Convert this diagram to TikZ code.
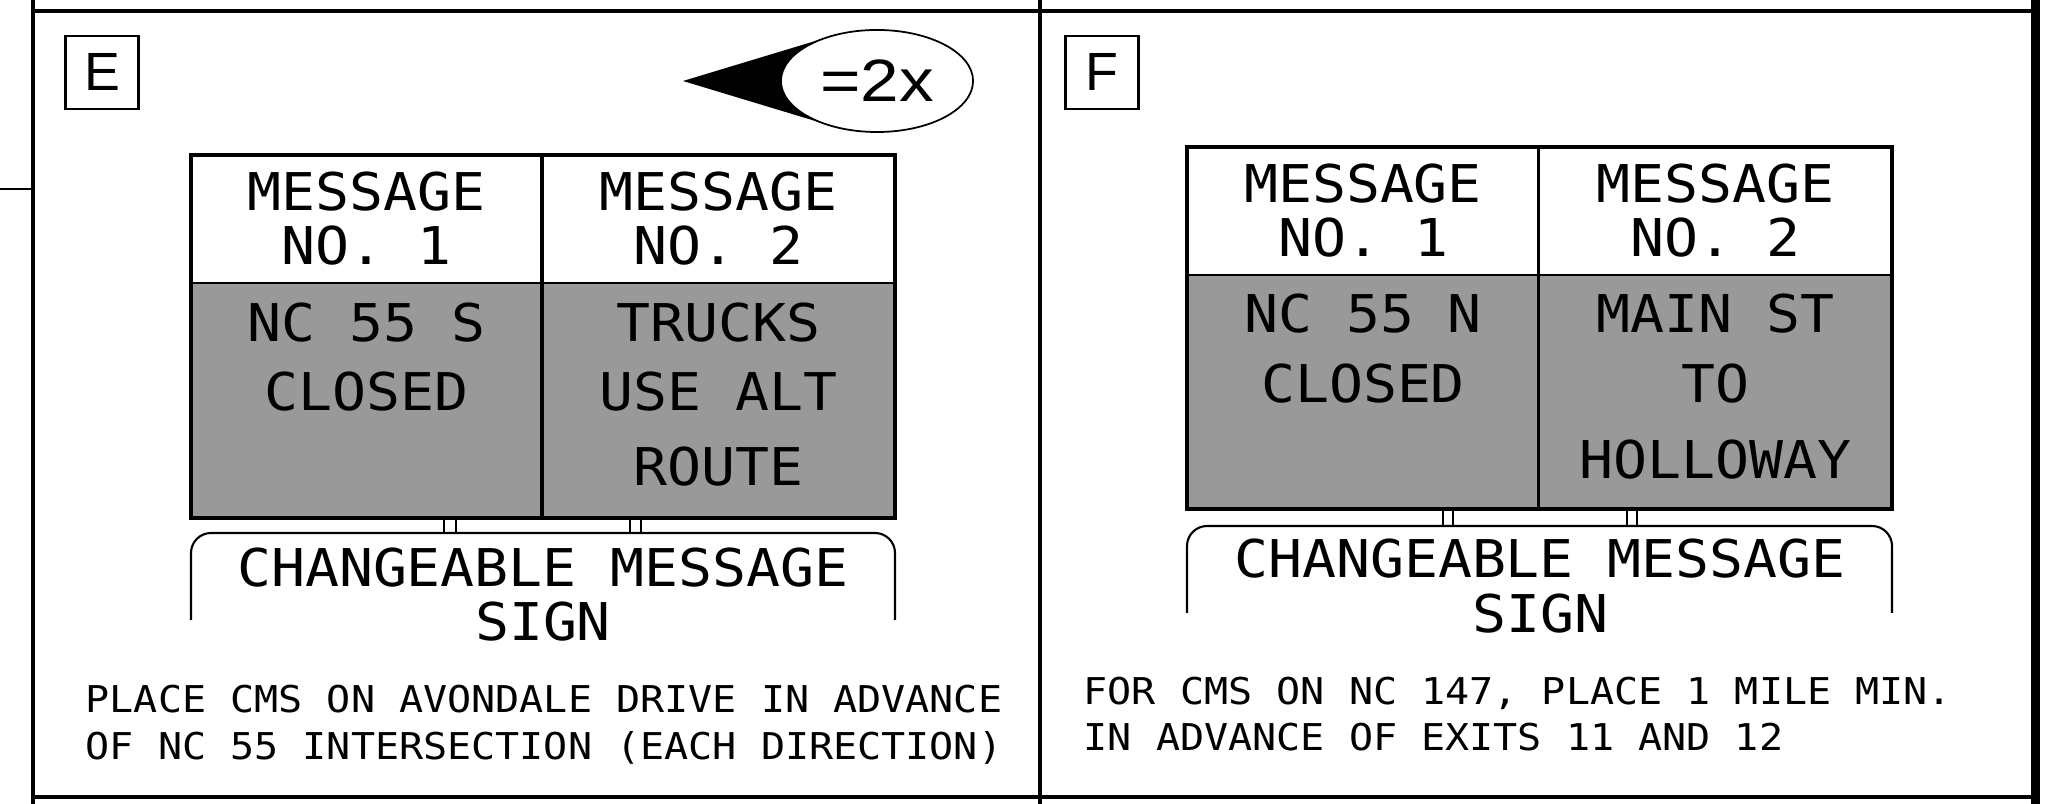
\documentclass[tikz,border=0pt]{standalone}
\usepackage{fontspec}
\usetikzlibrary{shapes.geometric}
\newfontfamily\cadfont[FakeStretch=1.085]{DejaVu Sans Mono}
\newfontfamily\tagfont{Liberation Sans}
\newfontfamily\ovalfont[FakeStretch=1.16]{Liberation Sans}
\definecolor{signgray}{RGB}{153,153,153}

\begin{document}
\begin{tikzpicture}[x=0.01cm, y=-0.01cm,
    sign_text/.style={font=\cadfont\fontsize{14.8}{16}\selectfont, anchor=base, inner sep=0},
    note_text/.style={font=\cadfont\fontsize{10.5}{12}\selectfont, anchor=base west, inner sep=0},
    tag_node/.style={draw, line width=0.6pt, minimum width=0.73cm, minimum height=0.73cm, inner sep=0, font=\tagfont\fontsize{15.3}{16}\selectfont},
    frame_line/.style={line width=1.4pt}]
    \useasboundingbox (0,0) rectangle (2057,804);
    \draw[frame_line] (33,0) -- (33,804);
    \draw[frame_line] (1040,0) -- (1040,804);
    \draw[line width=2.5pt] (2035.5,0) -- (2035.5,804);
    \draw[frame_line] (33,11) -- (2035.5,11);
    \draw[frame_line] (33,797) -- (2035.5,797);
    \draw[line width=0.4pt] (0,189) -- (33,189);

    \node[tag_node] (e_tag) at (102,72.5) {E};
    \node[tag_node] (f_tag) at (1102,72.5) {F};

    \coordinate (tip) at (683,81);
    \fill (tip) -- (829.5,36.7) -- (829.5,125.3) -- cycle;
    \node[draw, ellipse, fill=white, line width=0.5pt, minimum width=1.92cm, minimum height=1.02cm, inner sep=0, font=\ovalfont\fontsize{17}{18}\selectfont] (scale_oval) at (877,81) {=2x};

    \fill[signgray] (191,283) rectangle (895,518);
    \draw[line width=0.6pt] (191,283) -- (895,283);
    \draw[line width=0.9pt] (542,155) -- (542,518);
    \draw[line width=1.1pt] (191,155) rectangle (895,518);
    \node[sign_text] (e_m1a) at (366.5,211) {MESSAGE};
    \node[sign_text] (e_m1b) at (366.5,265) {NO. 1};
    \node[sign_text] (e_m2a) at (718.5,211) {MESSAGE};
    \node[sign_text] (e_m2b) at (718.5,265) {NO. 2};
    \node[sign_text] (e_b1a) at (366.5,342) {NC 55 S};
    \node[sign_text] (e_b1b) at (366.5,411) {CLOSED};
    \node[sign_text] (e_b2a) at (718.5,342) {TRUCKS};
    \node[sign_text] (e_b2b) at (718.5,411) {USE ALT};
    \node[sign_text] (e_b2c) at (718.5,486) {ROUTE};
    \draw[line width=0.4pt] (444,518) -- (444,533) (456,518) -- (456,533);
    \draw[line width=0.4pt] (630,518) -- (630,533) (641,518) -- (641,533);
    \draw[line width=0.6pt, rounded corners=0.2cm] (191,620) -- (191,533) -- (895,533) -- (895,620);
    \node[sign_text] (e_cms) at (543,587) {CHANGEABLE MESSAGE};
    \node[sign_text] (e_sign) at (543,641) {SIGN};
    \node[note_text] (e_note1) at (85,712.5) {PLACE CMS ON AVONDALE DRIVE IN ADVANCE};
    \node[note_text] (e_note2) at (85,760) {OF NC 55 INTERSECTION (EACH DIRECTION)};

    \fill[signgray] (1187,275) rectangle (1892,509);
    \draw[line width=0.6pt] (1187,275) -- (1892,275);
    \draw[line width=0.9pt] (1538.5,147) -- (1538.5,509);
    \draw[line width=1.1pt] (1187,147) rectangle (1892,509);
    \node[sign_text] (f_m1a) at (1363,203) {MESSAGE};
    \node[sign_text] (f_m1b) at (1363,257) {NO. 1};
    \node[sign_text] (f_m2a) at (1715.5,203) {MESSAGE};
    \node[sign_text] (f_m2b) at (1715.5,257) {NO. 2};
    \node[sign_text] (f_b1a) at (1363,333) {NC 55 N};
    \node[sign_text] (f_b1b) at (1363,403) {CLOSED};
    \node[sign_text] (f_b2a) at (1715.5,333) {MAIN ST};
    \node[sign_text] (f_b2b) at (1715.5,403) {TO};
    \node[sign_text] (f_b2c) at (1715.5,479) {HOLLOWAY};
    \draw[line width=0.4pt] (1443,509) -- (1443,526) (1453,509) -- (1453,526);
    \draw[line width=0.4pt] (1627,509) -- (1627,526) (1637,509) -- (1637,526);
    \draw[line width=0.6pt, rounded corners=0.2cm] (1187,613) -- (1187,526) -- (1892,526) -- (1892,613);
    \node[sign_text] (f_cms) at (1540,578) {CHANGEABLE MESSAGE};
    \node[sign_text] (f_sign) at (1540,633) {SIGN};
    \node[note_text] (f_note1) at (1083,704.5) {FOR CMS ON NC 147, PLACE 1 MILE MIN.};
    \node[note_text] (f_note2) at (1083,750.5) {IN ADVANCE OF EXITS 11 AND 12};
\end{tikzpicture}
\end{document}
